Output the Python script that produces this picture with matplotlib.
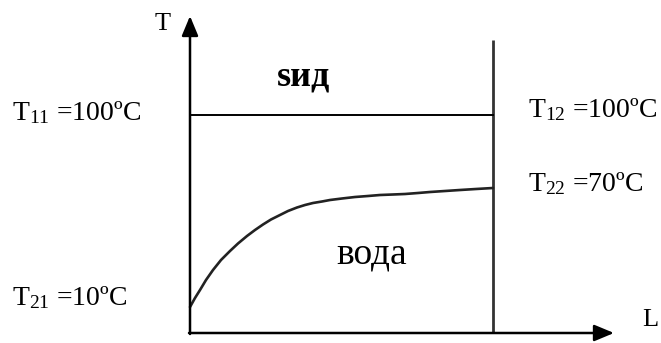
import matplotlib
matplotlib.use("Agg")
import matplotlib.pyplot as plt

plt.rcParams['font.family'] = ['Liberation Serif', 'DejaVu Serif']
plt.rcParams['mathtext.fontset'] = 'custom'
plt.rcParams['mathtext.rm'] = 'Liberation Serif'
plt.rcParams['mathtext.it'] = 'Liberation Serif:italic'

# Schematic coordinates (drawing units, y grows downward)
origin = (190, 333)
axis_top = 16
axis_right = 614
wall_x = 493
wall_top = 40
hot_level = 115

# Water temperature profile along the wall
curve_L = [190, 195, 200, 206, 213, 221, 230, 238, 247, 255, 263, 271, 280, 288,
           297, 305, 313, 322, 330, 342, 355, 368, 380, 393, 405, 418, 430, 445,
           460, 476, 493]
curve_T = [307, 298, 290, 280, 270, 260, 251, 243.5, 236, 230, 224.5, 219.5, 215, 211,
           207.5, 205, 203, 201.5, 200, 198.5, 197, 196, 195, 194.5, 194, 193,
           192, 191, 190, 189, 188]

labels = {
    'T11': r'T$_{\mathrm{11}}$ =100ºC',
    'T12': r'T$_{\mathrm{12}}$ =100ºC',
    'T22': r'T$_{\mathrm{22}}$ =70ºC',
    'T21': r'T$_{\mathrm{21}}$ =10ºC',
}

fig = plt.figure(figsize=(6.61, 3.43), dpi=100)
ax = fig.add_axes([0, 0, 1, 1])
ax.set_xlim(0, 661)
ax.set_ylim(343, 0)
ax.axis('off')

axis_color = '#333333'
# axes arrows
ax.annotate('', xy=(origin[0], axis_top), xytext=(origin[0], origin[1] + 1),
            arrowprops=dict(arrowstyle='-|>,head_length=1.2,head_width=0.5',
                            color='black', lw=1.8, shrinkA=0, shrinkB=0))
ax.annotate('', xy=(axis_right, origin[1]), xytext=(origin[0] - 1, origin[1]),
            arrowprops=dict(arrowstyle='-|>,head_length=1.2,head_width=0.5',
                            color='black', lw=1.8, shrinkA=0, shrinkB=0))

# wall and hot side level
ax.plot([wall_x, wall_x], [wall_top, origin[1]], color=axis_color, lw=2.0,
        solid_capstyle='butt')
ax.plot([origin[0], wall_x], [hot_level, hot_level], color='black', lw=1.4)

# water curve
ax.plot(curve_L, curve_T, color='#222222', lw=1.9, solid_capstyle='round',
        solid_joinstyle='round')

fs = 20
ax.text(12, 113, labels['T11'], fontsize=fs, ha='left', va='center')
ax.text(528, 110, labels['T12'], fontsize=fs, ha='left', va='center')
ax.text(528, 184, labels['T22'], fontsize=fs, ha='left', va='center')
ax.text(12, 298, labels['T21'], fontsize=fs, ha='left', va='center')

ax.text(163, 24, 'T', fontsize=19, ha='center', va='center')
ax.text(650, 320, 'L', fontsize=19, ha='center', va='center')
ax.text(304, 77, 'sид', fontsize=26, ha='center', va='center', fontweight='bold')
ax.text(372, 254, 'вода', fontsize=27, ha='center', va='center')

fig.savefig('out.png', dpi=100)
